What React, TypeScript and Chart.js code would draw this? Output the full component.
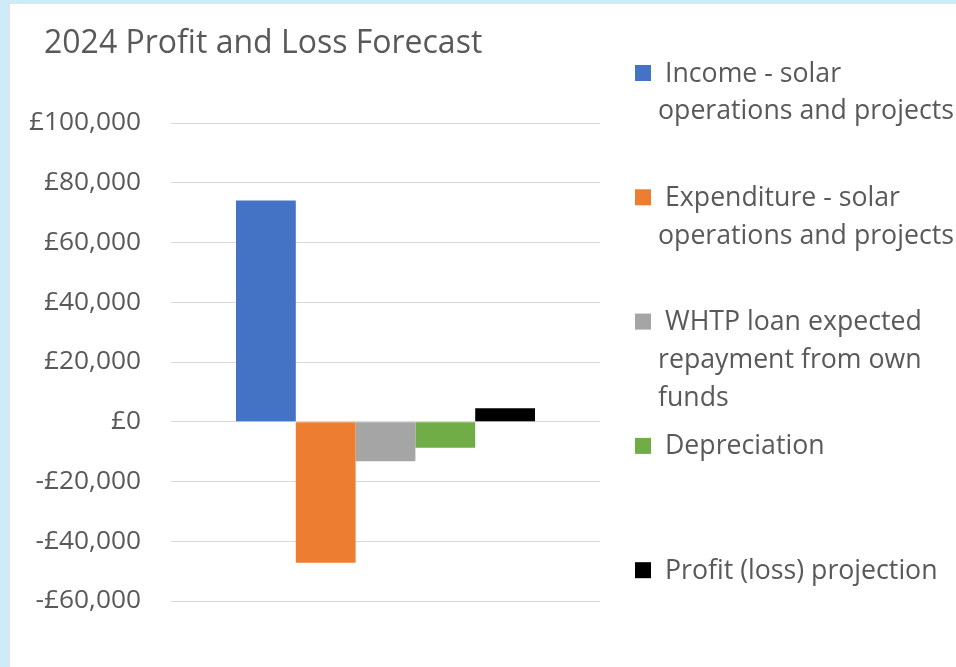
import { useEffect, useRef } from "react";
import { Chart, registerables } from "chart.js";

Chart.register(...registerables);

const titleText = "2024 Profit and Loss Forecast";
const categories = ["2024"];
const seriesNames = [
  "Income - solar operations and projects",
  "Expenditure - solar operations and projects",
  "WHTP loan expected repayment from own funds",
  "Depreciation",
  "Profit (loss) projection",
];
const seriesValues = [74100, -47200, -13200, -8700, 4500];
const seriesColors = ["#4472C4", "#ED7D31", "#A5A5A5", "#70AD47", "#000000"];
const legendLines = [
  ["Income - solar", "operations and projects"],
  ["Expenditure - solar", "operations and projects"],
  ["WHTP loan expected", "repayment from own", "funds"],
  ["Depreciation"],
  ["Profit (loss) projection"],
];
const yMin = -60000;
const yMax = 100000;
const yStep = 20000;

const FONT = "'Open Sans', 'Noto Sans', sans-serif";
const TEXT = "#595959";

function fmt(v: number): string {
  const s = Math.abs(v).toLocaleString("en-GB");
  return (v < 0 ? "-£" : "£") + s;
}

const framePlugin = {
  id: "frame",
  beforeDraw(chart: any) {
    const ctx = chart.ctx;
    ctx.save();
    ctx.fillStyle = "#CDEBF8";
    ctx.fillRect(0, 0, chart.width, chart.height);
    ctx.fillStyle = "#E9DDE0";
    ctx.fillRect(9, 3, chart.width - 9, chart.height - 3);
    ctx.fillStyle = "#FFFFFF";
    ctx.fillRect(10, 4, chart.width - 10, chart.height - 4);
    ctx.restore();
  },
  afterDraw(chart: any) {
    const ctx = chart.ctx;
    ctx.save();
    ctx.fillStyle = TEXT;
    ctx.textBaseline = "alphabetic";
    ctx.textAlign = "left";
    ctx.font = `32px ${FONT}`;
    ctx.fillText(titleText, 44, 52.5);

    ctx.font = `26.7px ${FONT}`;
    const base0 = 81.5;
    const stepY = 124.3;
    const lineH = 37.8;
    chart.data.datasets.forEach((ds: any, i: number) => {
      const b = base0 + i * stepY;
      ctx.fillStyle = ds.backgroundColor;
      ctx.fillRect(635, b - 16.5, 16, 16);
      ctx.fillStyle = TEXT;
      legendLines[i].forEach((line, j) => {
        ctx.fillText(line, j === 0 ? 665 : 658, b + j * lineH);
      });
    });
    ctx.restore();
  },
};

export default function App() {
  const ref = useRef<HTMLCanvasElement | null>(null);
  useEffect(() => {
    if (!ref.current) return;
    const chart = new Chart(ref.current, {
      type: "bar",
      data: {
        labels: categories,
        datasets: seriesNames.map((name, i) => ({
          label: name,
          data: [seriesValues[i]],
          backgroundColor: seriesColors[i],
          borderWidth: 0,
          categoryPercentage: 0.697,
          barPercentage: 1,
        })),
      },
      options: {
        responsive: false,
        animation: false,
        devicePixelRatio: 1,
        layout: { padding: { left: 10, top: 123, right: 356, bottom: 66 } },
        plugins: {
          legend: { display: false },
          title: { display: false },
          tooltip: { enabled: false },
        },
        scales: {
          x: { display: false, grid: { display: false } },
          y: {
            min: yMin,
            max: yMax,
            border: { display: false },
            grid: { color: "#D9D9D9", lineWidth: 1, drawTicks: false },
            ticks: {
              stepSize: yStep,
              padding: 30,
              color: TEXT,
              font: { family: FONT, size: 26.3 },
              callback: (v: any) => fmt(Number(v)),
            },
            afterFit: (s: any) => {
              s.width = 161;
            },
          },
        },
      },
      plugins: [framePlugin],
    });
    return () => chart.destroy();
  }, []);
  return (
    <canvas
      ref={ref}
      width={956}
      height={667}
      style={{ position: "fixed", left: 0, top: 0, width: 956, height: 667 }}
    />
  );
}
